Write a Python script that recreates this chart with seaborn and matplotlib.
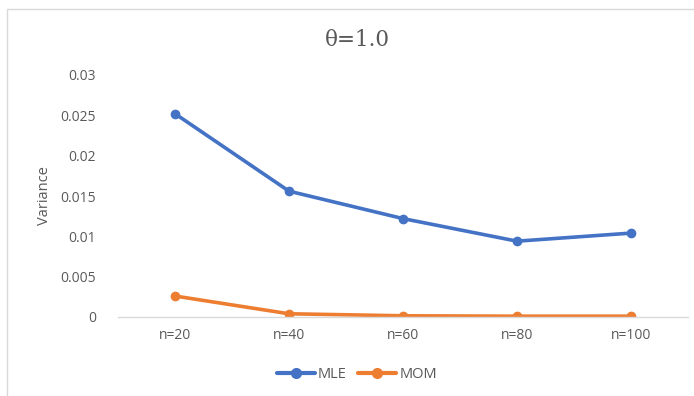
import pandas as pd
import matplotlib
matplotlib.use('Agg')
import matplotlib.pyplot as plt
import seaborn as sns
from matplotlib.patches import Rectangle

# Data
sample_sizes = ['n=20', 'n=40', 'n=60', 'n=80', 'n=100']
mle_var = [0.0252, 0.0156, 0.0122, 0.0094, 0.0104]
mom_var = [0.0026, 0.0004, 0.00015, 0.0001, 0.0001]

df = pd.DataFrame({
    'n': sample_sizes * 2,
    'Variance': mle_var + mom_var,
    'method': ['MLE'] * 5 + ['MOM'] * 5,
})

sns.set_theme(style='white')
plt.rcParams['font.family'] = ['Open Sans', 'DejaVu Sans']

BLUE = '#4472C4'
ORANGE = '#ED7D31'
TEXT = '#595959'

fig = plt.figure(figsize=(6.94, 3.96), dpi=100)
ax = fig.add_axes([118 / 694, 1 - 317 / 396, 570 / 694, (317 - 75) / 396])

sns.lineplot(data=df, x='n', y='Variance', hue='method', palette=[BLUE, ORANGE],
             marker='o', markersize=7, markeredgewidth=0, linewidth=2.6, ax=ax,
             sort=False)

ax.set_xlim(-0.5, 4.5)
ax.set_ylim(0, 0.03)
ax.set_yticks([0, 0.005, 0.01, 0.015, 0.02, 0.025, 0.03])
ax.set_yticklabels(['0', '0.005', '0.01', '0.015', '0.02', '0.025', '0.03'])
ax.tick_params(axis='both', colors=TEXT, labelsize=10, length=0)
ax.tick_params(axis='y', pad=16)
ax.tick_params(axis='x', pad=8)
for s in ['top', 'right', 'left']:
    ax.spines[s].set_visible(False)
ax.spines['bottom'].set_color('#D9D9D9')
ax.spines['bottom'].set_linewidth(1)
ax.set_xlabel('')
ax.set_ylabel('Variance', color=TEXT, fontsize=10.5, labelpad=6)

fig.text(357 / 694, 1 - 40 / 396, 'θ=1.0', ha='center', va='center',
         fontsize=15.5, color=TEXT, family=['DejaVu Serif'])

handles, labels = ax.get_legend_handles_labels()
for h in handles:
    h.set_markersize(8)
    h.set_linewidth(3)
ax.legend(handles, labels, loc='center', bbox_to_anchor=(357 / 694, 1 - 375 / 396),
          bbox_transform=fig.transFigure, ncol=2, frameon=False, fontsize=10.5,
          labelcolor=TEXT, handlelength=2.6, columnspacing=0.8, handletextpad=0.2)

# chart border
fig.patches.append(Rectangle((7 / 694, -0.01), 1.0, 1 - 9 / 396 + 0.01,
                             transform=fig.transFigure, fill=False,
                             edgecolor='#D9D9D9', linewidth=1))

fig.savefig('out.png', dpi=100)
